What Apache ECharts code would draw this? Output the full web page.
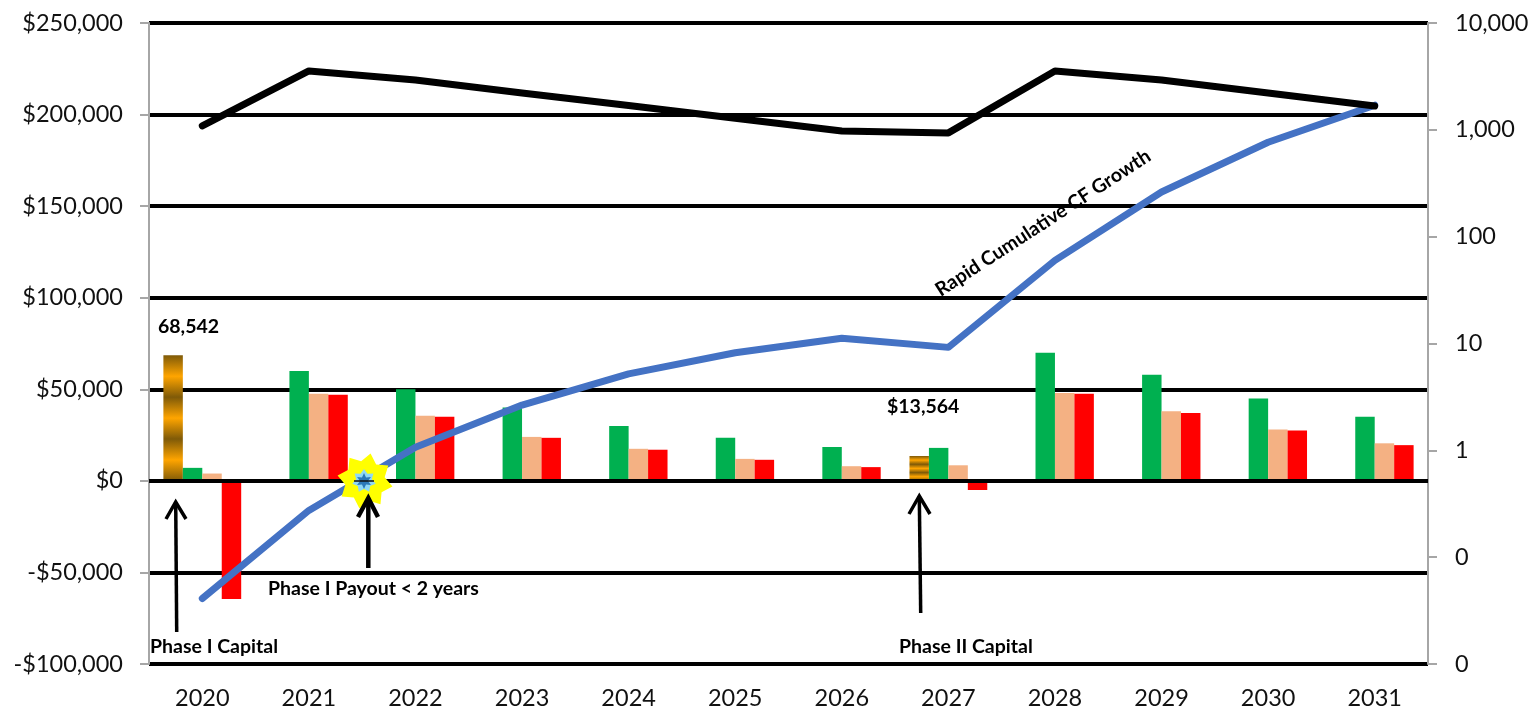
<!DOCTYPE html>
<html><head><meta charset="utf-8">
<style>html,body{margin:0;padding:0;background:#fff}#c{width:1535px;height:710px}</style>
<script src="https://cdn.jsdelivr.net/npm/echarts@6/dist/echarts.min.js"></script>
</head><body><div id="c"></div>
<script>
const years = ['2020','2021','2022','2023','2024','2025','2026','2027','2028','2029','2030','2031'];
const capital = [68542,null,null,null,null,null,null,13564,null,null,null,null];
const greenBars = [7100,60000,50000,40000,30000,23500,18500,18000,70000,58000,45000,35000];
const peachBars = [4000,47500,35500,24000,17500,12000,8000,8500,48000,38000,28000,20500];
const redBars = [-64500,47000,35000,23500,17000,11500,7500,-5000,47500,37000,27500,19500];
const blackLine = [193800,223800,218900,211800,205000,198000,191000,190000,223800,218900,211800,204700];
const blueLine = [0.041,0.274,1.07,2.65,5.2,8.2,11.2,9.2,60,262,765,1700];

const FONT = 'Lato';
const chart = echarts.init(document.getElementById('c'), null, {renderer:'canvas'});

const stops = [];
for (let i = 0; i <= 6; i++) stops.push({offset:i/6, color: i%2 ? '#ffa500' : '#7f5a08'});
const brown = new echarts.graphic.LinearGradient(0,0,0,1,stops);

function arrow(tip, tail, hl, hr, w){
  return [
    {type:'polyline', z:50, shape:{points:[tail,tip]}, style:{stroke:'#000',lineWidth:w,fill:null}},
    {type:'polyline', z:50, shape:{points:[hl,tip,hr]}, style:{stroke:'#000',lineWidth:w,fill:null}}
  ];
}
function star(cx,cy,n,ro,ri,fill,rot){
  const pts=[];
  for(let i=0;i<n*2;i++){
    const r=i%2?ri:ro, a=-Math.PI/2+(rot||0)+i*Math.PI/n;
    pts.push([cx+r*Math.cos(a),cy+r*Math.sin(a)]);
  }
  return {type:'polygon',z:40,shape:{points:pts},style:{fill}};
}
function note(text,x,y,extra){
  return Object.assign({type:'text',z:60,x,y,style:{text,font:`bold 19.5px ${FONT}`,fill:'#000',textVerticalAlign:'middle'}},extra||{});
}

chart.setOption({
  animation:false,
  backgroundColor:'#fff',
  grid:{left:149,right:107,top:23,height:641,containLabel:false},
  xAxis:{type:'category',data:years,position:'bottom',
    axisLine:{show:false,onZero:false},axisTick:{show:false},
    axisLabel:{fontFamily:FONT,fontSize:23.5,color:'#111',margin:22},splitLine:{show:false}},
  yAxis:[
    {type:'value',min:-100000,max:250000,interval:50000,position:'left',
     axisLine:{show:true,lineStyle:{color:'#a6a6a6',width:2}},
     axisTick:{show:true,length:9,lineStyle:{color:'#a6a6a6',width:2}},
     axisLabel:{fontFamily:FONT,fontSize:23.5,color:'#111',margin:26,
       formatter:v=>(v<0?'-$':'$')+Math.abs(v).toLocaleString('en-US')},
     splitLine:{show:true,lineStyle:{color:'#000',width:4}}},
    {type:'log',logBase:10,min:0.01,max:10000,position:'right',
     axisLine:{show:true,lineStyle:{color:'#a6a6a6',width:2}},
     axisTick:{show:true,length:9,lineStyle:{color:'#a6a6a6',width:2}},
     minorTick:{show:false},
     axisLabel:{fontFamily:FONT,fontSize:23.5,color:'#111',margin:27,
       formatter:v=>v<1?'0':Math.round(v).toLocaleString('en-US')},
     splitLine:{show:false}}
  ],
  series:[
    {name:'Capital',type:'bar',data:capital,barGap:0,barCategoryGap:'27%',itemStyle:{color:brown}},
    {name:'Green',type:'bar',data:greenBars,itemStyle:{color:'#00b050'}},
    {name:'Peach',type:'bar',data:peachBars,itemStyle:{color:'#f4b183'}},
    {name:'Red',type:'bar',data:redBars,itemStyle:{color:'#ff0000'},
     markLine:{silent:true,symbol:'none',animation:false,label:{show:false},z:4,
       lineStyle:{color:'#000',width:4,type:'solid'},data:[{yAxis:0}]}},
    {name:'Cumulative',type:'line',yAxisIndex:1,data:blueLine,symbol:'none',z:5,
     lineStyle:{color:'#4472c4',width:7,cap:'round',join:'round'}},
    {name:'Black',type:'line',yAxisIndex:0,data:blackLine,symbol:'none',z:6,
     lineStyle:{color:'#000',width:7,cap:'round',join:'round'}}
  ],
  graphic:{elements:[
    star(365,481,8,28,20,'#ffff00',0.2),
    star(364,481,7,12,8,'#8fd8f5',0),
    star(364,481,6,8,4,'#2a78b8',0),
    {type:'line',z:41,shape:{x1:354,y1:481,x2:374,y2:481},style:{stroke:'#111',lineWidth:1.5}},
    ...arrow([175.7,502],[176.7,632],[166,519],[186,519],3.5),
    ...arrow([368.3,498],[368.3,568],[358,517],[378,517],4.5),
    ...arrow([919.3,496],[920.7,613],[909,514],[930,514],3.5),
    note('68,542',158,327),
    note('$13,564',887,407),
    note('Phase I Capital',150,647),
    note('Phase II Capital',899,647),
    note('Phase I Payout < 2 years',268,589),
    note('Rapid Cumulative CF Growth',1043,223,{rotation:33*Math.PI/180,
      style:{text:'Rapid Cumulative CF Growth',font:`bold 19.5px ${FONT}`,fill:'#000',textAlign:'center',textVerticalAlign:'middle'}})
  ]}
});
</script></body></html>
